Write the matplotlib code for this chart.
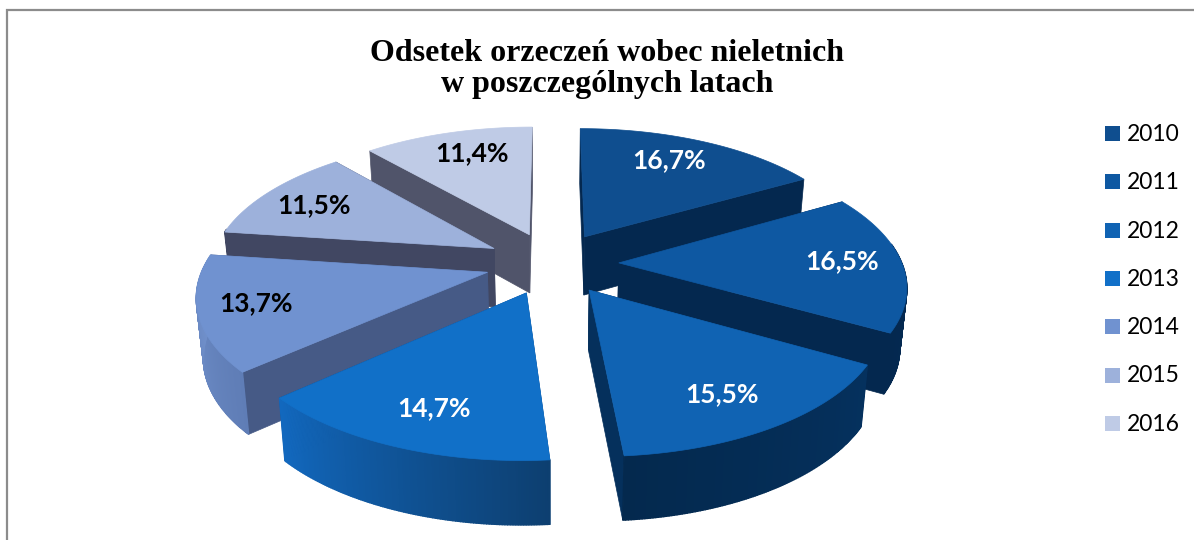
"""Odsetek orzeczen wobec nieletnich: rozsuniety wykres kolowy 3D rysowany wielokatami."""
import numpy as np
import matplotlib
matplotlib.use("Agg")
import matplotlib.pyplot as plt
from matplotlib.colors import to_rgb
from matplotlib.patches import Polygon, Rectangle

TITLE = "Odsetek orzeczeń wobec nieletnich\nw poszczególnych latach"
YEARS = ["2010", "2011", "2012", "2013", "2014", "2015", "2016"]
VALUES = [16.7, 16.5, 15.5, 14.7, 13.7, 11.5, 11.4]
LABELS = ["16,7%", "16,5%", "15,5%", "14,7%", "13,7%", "11,5%", "11,4%"]
TOP_COLORS = ["#0F4E8F", "#0E58A2", "#1063B3", "#1170C8", "#7092D0", "#9DB1DB", "#BFCBE6"]
WALL_COLORS = ["#04284F", "#04284F", "#05305C", "#0A4A8C", "#465A86", "#414762", "#50546A"]
RIM_START = ["#04284F", "#052C58", "#05315E", "#0D3F70", "#5F7DB6", "#414762", "#50546A"]
RIM_END = ["#04284F", "#04284F", "#04294E", "#1268BE", "#7393CE", "#414762", "#50546A"]
LABEL_COLORS = ["white", "white", "white", "white", "black", "black", "black"]
LABEL_XY = [(669, 160), (842, 261), (722, 394), (434, 408), (256, 303), (314, 205), (472, 153)]

CX, CY = 552, 263
RX, RY = 283, 132
PERSP = 0.152
EXPLODE = 0.236
DEPTH = 59


def top_xy(x, y):
    w = 1 + PERSP * y
    return CX + RX * x / w, CY - RY * y / w


def bottom_xy(x, y):
    w = 1 + PERSP * y
    sx, sy = top_xy(x, y)
    return CX + (sx - CX) * 0.98, sy + DEPTH / w ** 0.43


def blend(c1, c2, t):
    a, b = np.array(to_rgb(c1)), np.array(to_rgb(c2))
    return tuple(a + (b - a) * t)


plt.rcParams["font.family"] = ["Lato", "DejaVu Sans"]
fig = plt.figure(figsize=(11.94, 5.4), dpi=100, facecolor="white")
ax = fig.add_axes([0, 0, 1, 1])
ax.set_xlim(0, 1194)
ax.set_ylim(540, 0)
ax.axis("off")

# ramka wykresu
ax.add_patch(Rectangle((7, 10), 1300, 600, fc="white", ec="#8C8C8C", lw=1.6))

edges = np.concatenate([[0], np.cumsum(VALUES)]) / sum(VALUES) * 2 * np.pi
mids = (edges[:-1] + edges[1:]) / 2

# od tylu do przodu
for i in np.argsort(-np.cos(mids)):
    ox, oy = EXPLODE * np.sin(mids[i]), EXPLODE * np.cos(mids[i])
    th = np.linspace(edges[i], edges[i + 1], 120)
    px, py = ox + np.sin(th), oy + np.cos(th)
    top = [top_xy(a, b) for a, b in zip(px, py)]
    bot = [bottom_xy(a, b) for a, b in zip(px, py)]
    apex_t, apex_b = top_xy(ox, oy), bottom_xy(ox, oy)

    for t, b in ((top[0], bot[0]), (top[-1], bot[-1])):
        ax.add_patch(Polygon([apex_t, t, b, apex_b], fc=WALL_COLORS[i], ec=WALL_COLORS[i], lw=0.5))

    # bok tylko od frontu, tylna czesc i tak nie jest widoczna
    for k in range(len(th) - 1):
        if np.cos(th[k]) > 0.15:
            continue
        col = blend(RIM_START[i], RIM_END[i], k / (len(th) - 2))
        ax.add_patch(Polygon([top[k], top[k + 1], bot[k + 1], bot[k]], fc=col, ec=col, lw=1))

    ax.add_patch(Polygon([apex_t] + top, fc=TOP_COLORS[i], ec=TOP_COLORS[i], lw=0.5))

for (x, y), lab, col in zip(LABEL_XY, LABELS, LABEL_COLORS):
    ax.text(x, y, lab, color=col, fontsize=19, fontweight="bold", ha="center", va="center")

ax.text(607, 69, TITLE, family="Liberation Serif", fontweight="bold", fontsize=23,
        ha="center", va="center", linespacing=1.13, color="black")

# legenda
for k, (year, col) in enumerate(zip(YEARS, TOP_COLORS)):
    yc = 133.5 + k * 48.3
    ax.add_patch(Rectangle((1105, yc - 7.5), 15, 15, fc=col, ec="none"))
    ax.text(1127, yc + 1, year, fontsize=16.5, ha="left", va="center", color="black")

fig.savefig("out.png", dpi=100)
